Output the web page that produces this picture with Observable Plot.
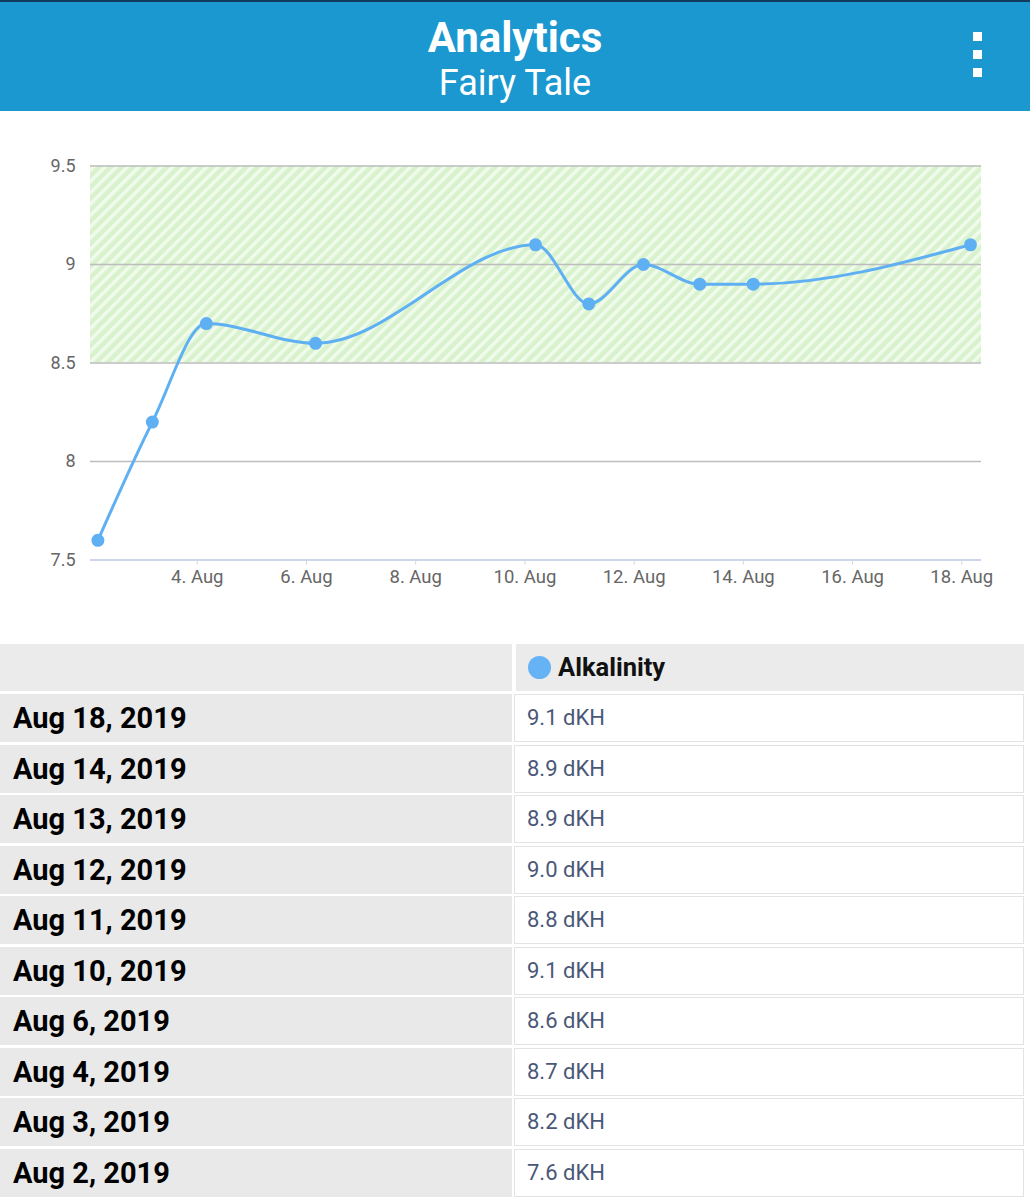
<!DOCTYPE html>
<html>
<head>
<meta charset="utf-8">
<script src="https://cdn.jsdelivr.net/npm/d3@7"></script>
<script src="https://cdn.jsdelivr.net/npm/@observablehq/plot@0.6"></script>
<style>
  html, body { margin: 0; padding: 0; background: #fff; }
  body { width: 1030px; font-family: Roboto, "Noto Sans", sans-serif; overflow: hidden; }
  .topline { height: 2px; background: #123a5c; }
  .header { position: relative; height: 109px; background: #1b98d0; color: #fff; text-align: center; }
  .header .title { position: absolute; left: 0; right: 0; top: 13px; font-size: 42px; font-weight: 700; line-height: 46px; }
  .header .subtitle { position: absolute; left: 0; right: 0; top: 60px; font-size: 36px; font-weight: 400; line-height: 42px; }
  .dots { position: absolute; left: 973px; top: 30px; width: 9px; }
  .dots span { display: block; width: 9px; height: 9px; background: #fff; margin-bottom: 9px; }
  #chart { height: 520px; }
  #chart svg { display: block; }
  .tbl { width: 1024px; margin-top: 13px; }
  .row { display: flex; height: 48px; margin-bottom: 2.5px; }
  .row .l { width: 512px; background: #e9e9e9; font-weight: 700; font-size: 29px; color: #000; line-height: 48px; padding-left: 13px; box-sizing: border-box; }
  .row .r { flex: 1; margin-left: 2px; background: #fff; border: 1px solid #e3e3e3; box-sizing: border-box; font-size: 22px; color: #4a5878; line-height: 46px; padding-left: 12px; }
  .row.head { height: 47px; margin-bottom: 3px; }
  .row.head .l { background: #ebebeb; }
  .row.head .r { margin-left: 4px; background: #ebebeb; border: none; font-weight: 700; font-size: 25.5px; color: #111; line-height: 47px; padding-left: 12px; display: flex; align-items: center; }
  .row.head .r .dot { width: 23px; height: 23px; border-radius: 50%; background: #65b2f5; margin-right: 7px; }
</style>
</head>
<body>
<div class="topline"></div>
<div class="header">
  <div class="title">Analytics</div>
  <div class="subtitle">Fairy Tale</div>
  <div class="dots"><span></span><span></span><span></span></div>
</div>
<div id="chart"></div>
<div class="tbl" id="tbl"></div>
<script>
// ---- data ----
const seriesName = "Alkalinity";
const unit = "dKH";
const dates = ["2019-08-02T04:20", "2019-08-03T04:15", "2019-08-04T04:00", "2019-08-06T04:00", "2019-08-10T04:40",
               "2019-08-11T04:05", "2019-08-12T04:05", "2019-08-13T04:50", "2019-08-14T04:20", "2019-08-18T03:50"];
const tableDates = ["Aug 2, 2019", "Aug 3, 2019", "Aug 4, 2019", "Aug 6, 2019", "Aug 10, 2019",
                    "Aug 11, 2019", "Aug 12, 2019", "Aug 13, 2019", "Aug 14, 2019", "Aug 18, 2019"];
const values = [7.6, 8.2, 8.7, 8.6, 9.1, 8.8, 9.0, 8.9, 8.9, 9.1];
const yTicks = [7.5, 8, 8.5, 9, 9.5];
const xTickDays = [4, 6, 8, 10, 12, 14, 16, 18];
const band = [{lo: 8.5, hi: 9.5}];
const xDomain = ["2019-08-02T01:05", "2019-08-18T08:40"];

const utc = s => new Date(s + ":00Z");
const data = dates.map((d, i) => ({date: utc(d), value: values[i]}));
const xTicks = xTickDays.map(d => new Date(Date.UTC(2019, 7, d)));

const lineColor = "#5eb0f3";

const chart = Plot.plot({
  width: 1030,
  height: 520,
  marginTop: 54.5,
  marginBottom: 71.5,
  marginLeft: 90,
  marginRight: 49,
  style: {fontFamily: "Roboto, sans-serif", fontSize: "18px", color: "#666", background: "#fff", overflow: "visible"},
  x: {type: "utc", domain: xDomain.map(utc), ticks: xTicks, tickFormat: d => `${d.getUTCDate()}. Aug`, tickSize: 5, tickPadding: 5, label: null},
  y: {domain: [7.5, 9.5], ticks: yTicks, tickFormat: d => String(d), tickSize: 0, tickPadding: 15, label: null},
  marks: [
    Plot.rect(band, {y1: "lo", y2: "hi", fill: "#e2f5dc"}),
    Plot.ruleY(yTicks.filter(t => t > 7.5), {stroke: "#bdbdbd", strokeWidth: 1.5}),
    Plot.ruleY([7.5], {stroke: "#ccd6eb", strokeWidth: 2}),
    Plot.line(data, {x: "date", y: "value", stroke: lineColor, strokeWidth: 3, curve: "monotone-x"}),
    Plot.dot(data, {x: "date", y: "value", r: 6.5, fill: lineColor, stroke: "none"})
  ]
});
document.getElementById("chart").appendChild(chart);

// hatch pattern for the plot band
const svg = d3.select(chart);
const defs = svg.insert("defs", ":first-child");
const pat = defs.append("pattern").attr("id", "hatch").attr("patternUnits", "userSpaceOnUse")
  .attr("width", 8).attr("height", 8).attr("patternTransform", "rotate(45)");
pat.append("rect").attr("width", 8).attr("height", 8).attr("fill", "#d8f2cd");
pat.append("rect").attr("width", 3.5).attr("height", 8).attr("fill", "#f0fbec");
const rectG = chart.querySelector('g[aria-label="rect"]');
if (rectG) { rectG.setAttribute("fill", "url(#hatch)"); rectG.querySelectorAll("rect").forEach(r => r.setAttribute("fill", "url(#hatch)")); }
chart.querySelectorAll('g[aria-label^="x-axis"] line, g[aria-label^="x-axis"] path').forEach(el => el.setAttribute("stroke", "#ccd6eb"));
chart.querySelectorAll('g[aria-label^="x-axis"]').forEach(g => {
  const lab = g.getAttribute("aria-label");
  if (lab.includes("tick") && !lab.includes("label")) g.setAttribute("stroke", "#ccd6eb");
  if (lab === "x-axis" || lab.includes("label")) g.setAttribute("font-size", "18.5");
});

// table
const tbl = document.getElementById("tbl");
let html = `<div class="row head"><div class="l"></div><div class="r"><div class="dot"></div>${seriesName}</div></div>`;
for (let i = values.length - 1; i >= 0; i--) {
  html += `<div class="row"><div class="l">${tableDates[i]}</div><div class="r">${values[i].toFixed(1)} ${unit}</div></div>`;
}
tbl.innerHTML = html;
</script>
</body>
</html>
